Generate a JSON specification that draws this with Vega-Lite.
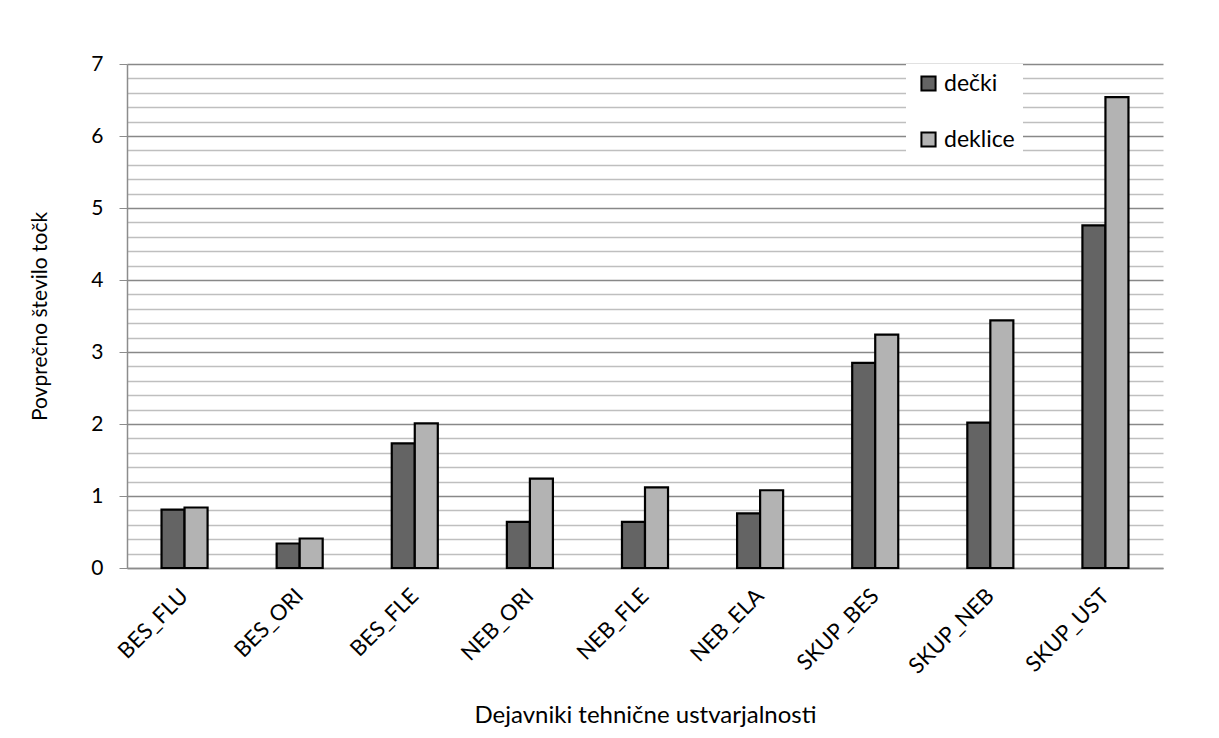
{
  "$schema": "https://vega.github.io/schema/vega-lite/v6.json",
  "width": 1036,
  "height": 504,
  "autosize": {"type": "none"},
  "padding": {"left": 127, "top": 64, "right": 56, "bottom": 170},
  "background": "white",
  "config": {
    "font": "Lato",
    "view": {"stroke": null},
    "axis": {"labelColor": "black", "titleColor": "black", "titleFontWeight": "normal"}
  },
  "data": {
    "values": [
      {"kat": "BES_FLU", "spol": "dečki", "vrednost": 0.81},
      {"kat": "BES_FLU", "spol": "deklice", "vrednost": 0.84},
      {"kat": "BES_ORI", "spol": "dečki", "vrednost": 0.34},
      {"kat": "BES_ORI", "spol": "deklice", "vrednost": 0.41},
      {"kat": "BES_FLE", "spol": "dečki", "vrednost": 1.73},
      {"kat": "BES_FLE", "spol": "deklice", "vrednost": 2.01},
      {"kat": "NEB_ORI", "spol": "dečki", "vrednost": 0.64},
      {"kat": "NEB_ORI", "spol": "deklice", "vrednost": 1.24},
      {"kat": "NEB_FLE", "spol": "dečki", "vrednost": 0.64},
      {"kat": "NEB_FLE", "spol": "deklice", "vrednost": 1.12},
      {"kat": "NEB_ELA", "spol": "dečki", "vrednost": 0.76},
      {"kat": "NEB_ELA", "spol": "deklice", "vrednost": 1.08},
      {"kat": "SKUP_BES", "spol": "dečki", "vrednost": 2.85},
      {"kat": "SKUP_BES", "spol": "deklice", "vrednost": 3.24},
      {"kat": "SKUP_NEB", "spol": "dečki", "vrednost": 2.02},
      {"kat": "SKUP_NEB", "spol": "deklice", "vrednost": 3.44},
      {"kat": "SKUP_UST", "spol": "dečki", "vrednost": 4.76},
      {"kat": "SKUP_UST", "spol": "deklice", "vrednost": 6.54}
    ]
  },
  "mark": {"type": "bar", "stroke": "black", "strokeWidth": 2.2},
  "encoding": {
    "x": {
      "field": "kat",
      "type": "nominal",
      "sort": null,
      "scale": {"paddingInner": 0.6, "paddingOuter": 0.3},
      "axis": {
        "title": "Dejavniki tehnične ustvarjalnosti",
        "titleFontSize": 24,
        "titleY": 154,
        "titleBaseline": "alphabetic",
        "labelAngle": -45,
        "labelAlign": "right",
        "labelBaseline": "middle",
        "labelFontSize": 22,
        "labelPadding": 24,
        "labelLimit": 0,
        "ticks": false,
        "tickSize": 0,
        "domainColor": "#8c8c8c",
        "domainWidth": 1.5
      }
    },
    "xOffset": {"field": "spol", "sort": ["dečki", "deklice"]},
    "y": {
      "field": "vrednost",
      "type": "quantitative",
      "scale": {"domain": [0, 7], "nice": false},
      "axis": {
        "title": "Povprečno število točk",
        "titleFontSize": 21,
        "titleX": -87,
        "titleY": 252,
        "titleAlign": "center",
        "titleBaseline": "middle",
        "values": [0, 0.2, 0.4, 0.6, 0.8, 1, 1.2, 1.4, 1.6, 1.8, 2, 2.2, 2.4, 2.6, 2.8, 3, 3.2, 3.4, 3.6, 3.8, 4, 4.2, 4.4, 4.6, 4.8, 5, 5.2, 5.4, 5.6, 5.8, 6, 6.2, 6.4, 6.6, 6.8, 7],
        "labelExpr": "datum.value % 1 === 0 ? format(datum.value, 'd') : ''",
        "labelFontSize": 21,
        "labelPadding": 16,
        "grid": true,
        "gridColor": {"condition": {"test": "datum.value % 1 === 0", "value": "#888888"}, "value": "#bfbfbf"},
        "gridWidth": 1.3,
        "tickSize": 8,
        "tickColor": "#8c8c8c",
        "tickOpacity": {"condition": {"test": "datum.value % 1 === 0", "value": 1}, "value": 0},
        "domainColor": "#8c8c8c",
        "domainWidth": 1.5
      }
    },
    "color": {
      "field": "spol",
      "type": "nominal",
      "sort": ["dečki", "deklice"],
      "scale": {"domain": ["dečki", "deklice"], "range": ["#646464", "#b3b3b3"]},
      "legend": {
        "title": null,
        "orient": "none",
        "legendX": 779,
        "legendY": 0,
        "fillColor": "white",
        "padding": 8,
        "symbolOffset": 3,
        "symbolType": "square",
        "symbolSize": 200,
        "symbolStrokeColor": "black",
        "symbolStrokeWidth": 2,
        "symbolOpacity": 1,
        "labelFontSize": 23,
        "labelColor": "black",
        "labelOffset": 4,
        "rowPadding": 32
      }
    }
  }
}
